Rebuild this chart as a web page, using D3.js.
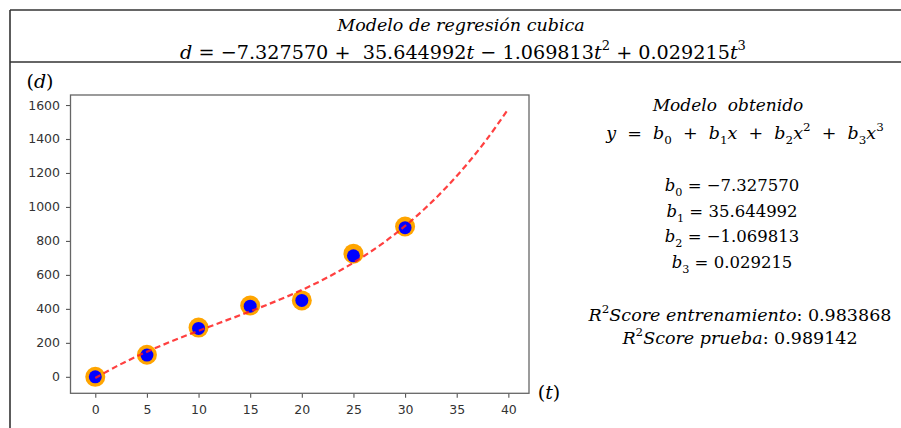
<!DOCTYPE html>
<html>
<head>
<meta charset="utf-8">
<script src="https://cdn.jsdelivr.net/npm/d3@7"></script>
<style>
  body { margin: 0; background: #fff; }
  svg { display: block; }
  text { white-space: pre; }
</style>
</head>
<body>
<svg></svg>
<script>
// observed points (t, d)
const tObs = [0, 5, 10, 15, 20, 25, 30];
const dOuter = [0, 130, 290, 420, 450, 725, 885];   // orange
const dInner = [0, 128, 285, 416, 450, 712, 878];   // blue

// fitted cubic
const tFit = [0, 2, 4, 6, 8, 10, 12, 14, 16, 18, 20, 22, 24, 26, 28, 30, 32, 34, 36, 38, 40];
const dFit = [-7, 60, 120, 174, 224, 271, 317, 362, 409, 458, 511, 570, 636, 710, 793, 888, 995, 1116, 1252, 1405, 1577];

const coefs = [-7.327570, 35.644992, -1.069813, 0.029215];
const r2Labels = ['entrenamiento', 'prueba'];
const r2Scores = [0.983868, 0.989142];

const xTicks = [0, 5, 10, 15, 20, 25, 30, 35, 40];
const yTicks = [0, 200, 400, 600, 800, 1000, 1200, 1400, 1600];

const W = 901, H = 428;
const MATH_FONT = '"DejaVu Serif", serif';

const svg = d3.select('svg').attr('width', W).attr('height', H);

/* ---------- table frame ---------- */
const frame = svg.append('g').attr('stroke', '#333').attr('stroke-width', 1.6);
frame.append('line').attr('x1', 10).attr('x2', W).attr('y1', 10).attr('y2', 10);
frame.append('line').attr('x1', 10).attr('x2', W).attr('y1', 62).attr('y2', 62);
frame.append('line').attr('x1', 10).attr('x2', 10).attr('y1', 10).attr('y2', H);

/* ---------- math text helper ---------- */
// parts: [string, kind]  kind = 'i' italic | 'r' roman | 'sub' | 'sup'
function mathText(x, y, parts, size) {
    const t = svg.append('text')
        .attr('x', x).attr('y', y)
        .attr('text-anchor', 'middle')
        .attr('font-family', MATH_FONT)
        .attr('font-size', size)
        .attr('fill', '#000');
    let shift = 0;
    parts.forEach(([s, k]) => {
        const ts = t.append('tspan').text(s);
        const want = k === 'sub' ? 0.3 * size : k === 'sup' ? -0.45 * size : 0;
        if (want !== shift) { ts.attr('dy', want - shift); shift = want; }
        if (k === 'i') ts.attr('font-style', 'italic');
        if (k === 'sub' || k === 'sup') ts.attr('font-size', size * 0.68);
    });
    return t;
}

const fmt = d3.format('.6f');
const signed = v => (v < 0 ? '−' : '') + fmt(Math.abs(v));

/* ---------- title ---------- */
mathText(461, 31, [['Modelo de regresión cubica', 'i']], 17.5);

const eq = [['d', 'i'], [' = ' + signed(coefs[0]), 'r']];
for (let k = 1; k < coefs.length; k++) {
    eq.push([(coefs[k] < 0 ? ' − ' : (k === 1 ? ' +  ' : ' + ')) + fmt(Math.abs(coefs[k])), 'r']);
    eq.push(['t', 'i']);
    if (k > 1) eq.push([String(k), 'sup']);
}
mathText(463, 59, eq, 19.2);

/* ---------- right block ---------- */
const RX = 740;
mathText(RX - 12, 111, [['Modelo  obtenido', 'i']], 17);
const yl = [['y', 'i'], ['  =  ', 'r']];
coefs.forEach((c, k) => {
    if (k > 0) yl.push(['  +  ', 'r']);
    yl.push(['b', 'i'], [String(k), 'sub']);
    if (k > 0) yl.push(['x', 'i']);
    if (k > 1) yl.push([String(k), 'sup']);
});
mathText(RX + 5, 139, yl, 17.5);

coefs.forEach((c, k) => {
    mathText(RX - 8, 191 + k * 25.7, [['b', 'i'], [String(k), 'sub'], [' = ' + signed(c), 'r']], 16.5);
});

r2Labels.forEach((lab, k) => {
    mathText(RX, 321 + k * 23, [['R', 'i'], ['2', 'sup'], ['Score ' + lab, 'i'], [': ' + fmt(r2Scores[k]), 'r']], 17.5);
});

/* ---------- plot ---------- */
const x = d3.scaleLinear().domain([-2.4, 42]).range([70.5, 529]);
const y = d3.scaleLinear().domain([-97, 1659]).range([393.3, 95]);

const plot = svg.append('g');

const xAxis = plot.append('g')
    .attr('transform', `translate(0,${y.range()[0]})`)
    .call(d3.axisBottom(x).tickValues(xTicks).tickSize(4.5).tickPadding(7).tickSizeOuter(0));
const yAxis = plot.append('g')
    .attr('transform', `translate(${x.range()[0]},0)`)
    .call(d3.axisLeft(y).tickValues(yTicks).tickFormat(d3.format('d'))
        .tickSize(4.5).tickPadding(6).tickSizeOuter(0));

[xAxis, yAxis].forEach(a => {
    a.select('.domain').remove();
    a.selectAll('line').attr('stroke', '#555').attr('stroke-width', 1.1);
    a.selectAll('text').attr('fill', '#333').attr('font-size', 12.5)
        .attr('font-family', '"DejaVu Sans", sans-serif');
});

plot.append('rect')
    .attr('x', x.range()[0]).attr('y', y.range()[1])
    .attr('width', x.range()[1] - x.range()[0])
    .attr('height', y.range()[0] - y.range()[1])
    .attr('fill', 'none').attr('stroke', '#666').attr('stroke-width', 1.3);

const pts = tObs.map((t, i) => ({t, a: dOuter[i], b: dInner[i]}));

plot.selectAll('.outer').data(pts).enter().append('circle')
    .attr('class', 'outer')
    .attr('cx', d => x(d.t)).attr('cy', d => y(d.a))
    .attr('r', 10).attr('fill', '#ffa500');

plot.selectAll('.inner').data(pts).enter().append('circle')
    .attr('class', 'inner')
    .attr('cx', d => x(d.t)).attr('cy', d => y(d.b))
    .attr('r', 6.5).attr('fill', '#0000ff');

const fit = tFit.map((t, i) => [t, dFit[i]]);
plot.append('path')
    .datum(fit)
    .attr('fill', 'none')
    .attr('stroke', '#ff1f1f').attr('stroke-opacity', 0.85)
    .attr('stroke-width', 2.2)
    .attr('stroke-dasharray', '6,3.5')
    .attr('d', d3.line().x(d => x(d[0])).y(d => y(d[1])).curve(d3.curveCatmullRom));

/* ---------- axis symbols ---------- */
mathText(40, 88, [['(', 'r'], ['d', 'i'], [')', 'r']], 19);
mathText(549, 399, [['(', 'r'], ['t', 'i'], [')', 'r']], 19);
</script>
</body>
</html>
